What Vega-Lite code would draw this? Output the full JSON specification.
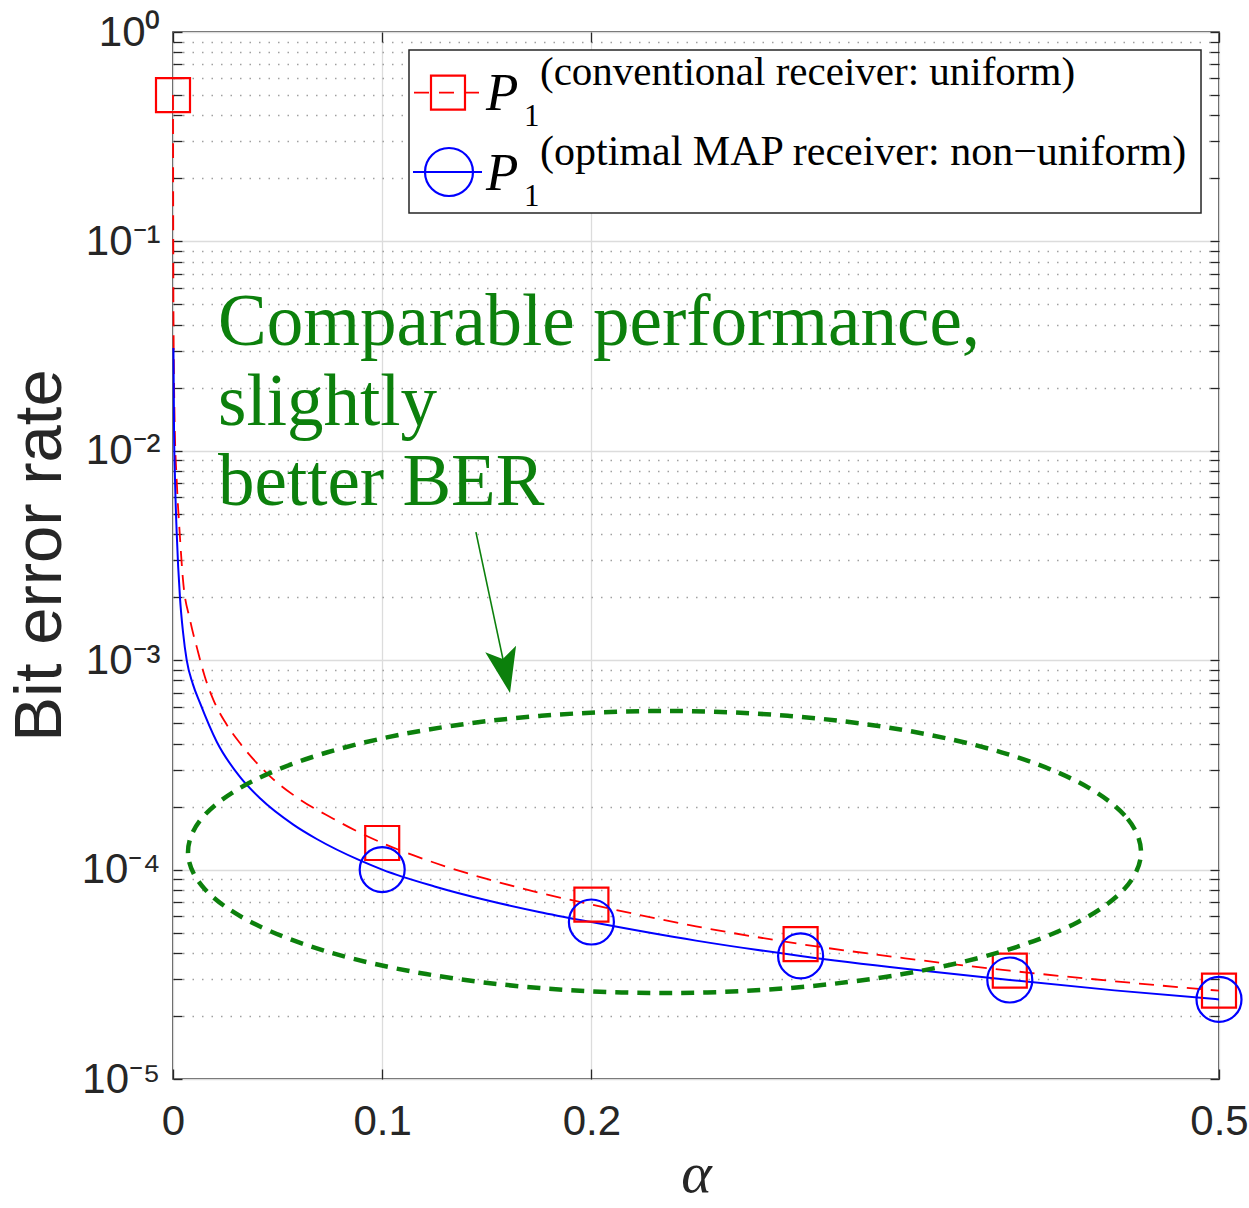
{
  "$schema": "https://vega.github.io/schema/vega-lite/v6.json",
  "width": 1046,
  "height": 1047,
  "autosize": {"type": "none"},
  "padding": {"left": 173, "top": 32, "right": 30, "bottom": 129},
  "background": "white",
  "config": {
    "view": {"stroke": "#262626", "strokeWidth": 1.5},
    "axis": {"labelFont": "Liberation Sans", "titleFont": "Liberation Sans"}
  },
  "datasets": {
    "curves": [
      {"receiver": "conventional", "alpha": 0, "ber": 0.5},
      {"receiver": "conventional", "alpha": 0.0002, "ber": 0.05},
      {"receiver": "conventional", "alpha": 0.0008, "ber": 0.0135},
      {"receiver": "conventional", "alpha": 0.00177, "ber": 0.00725},
      {"receiver": "conventional", "alpha": 0.0032, "ber": 0.00405},
      {"receiver": "conventional", "alpha": 0.00478, "ber": 0.00242},
      {"receiver": "conventional", "alpha": 0.00813, "ber": 0.00156},
      {"receiver": "conventional", "alpha": 0.01171, "ber": 0.00112},
      {"receiver": "conventional", "alpha": 0.0153, "ber": 0.00083},
      {"receiver": "conventional", "alpha": 0.0193, "ber": 0.000646},
      {"receiver": "conventional", "alpha": 0.025, "ber": 0.000505},
      {"receiver": "conventional", "alpha": 0.032, "ber": 0.000402},
      {"receiver": "conventional", "alpha": 0.0464, "ber": 0.000279},
      {"receiver": "conventional", "alpha": 0.0607, "ber": 0.000216},
      {"receiver": "conventional", "alpha": 0.0766, "ber": 0.000175},
      {"receiver": "conventional", "alpha": 0.0882, "ber": 0.000152},
      {"receiver": "conventional", "alpha": 0.1, "ber": 0.000134},
      {"receiver": "conventional", "alpha": 0.125, "ber": 0.0001078},
      {"receiver": "conventional", "alpha": 0.15, "ber": 0.0000902},
      {"receiver": "conventional", "alpha": 0.175, "ber": 0.0000776},
      {"receiver": "conventional", "alpha": 0.2, "ber": 0.0000681},
      {"receiver": "conventional", "alpha": 0.25, "ber": 0.0000536},
      {"receiver": "conventional", "alpha": 0.3, "ber": 0.0000441},
      {"receiver": "conventional", "alpha": 0.35, "ber": 0.0000377},
      {"receiver": "conventional", "alpha": 0.4, "ber": 0.0000329},
      {"receiver": "conventional", "alpha": 0.45, "ber": 0.0000293},
      {"receiver": "conventional", "alpha": 0.5, "ber": 0.0000264},
      {"receiver": "optimal", "alpha": 0.0002, "ber": 0.031},
      {"receiver": "optimal", "alpha": 0.0005, "ber": 0.0125},
      {"receiver": "optimal", "alpha": 0.00096, "ber": 0.0073},
      {"receiver": "optimal", "alpha": 0.00177, "ber": 0.00405},
      {"receiver": "optimal", "alpha": 0.00335, "ber": 0.00198},
      {"receiver": "optimal", "alpha": 0.0048, "ber": 0.00136},
      {"receiver": "optimal", "alpha": 0.00655, "ber": 0.001},
      {"receiver": "optimal", "alpha": 0.0095, "ber": 0.000769},
      {"receiver": "optimal", "alpha": 0.0129, "ber": 0.000625},
      {"receiver": "optimal", "alpha": 0.0209, "ber": 0.000408},
      {"receiver": "optimal", "alpha": 0.032, "ber": 0.000277},
      {"receiver": "optimal", "alpha": 0.0416, "ber": 0.000219},
      {"receiver": "optimal", "alpha": 0.0575, "ber": 0.000164},
      {"receiver": "optimal", "alpha": 0.0687, "ber": 0.00014},
      {"receiver": "optimal", "alpha": 0.0894, "ber": 0.0001106},
      {"receiver": "optimal", "alpha": 0.1, "ber": 0.0001},
      {"receiver": "optimal", "alpha": 0.125, "ber": 0.0000831},
      {"receiver": "optimal", "alpha": 0.15, "ber": 0.0000714},
      {"receiver": "optimal", "alpha": 0.175, "ber": 0.0000628},
      {"receiver": "optimal", "alpha": 0.2, "ber": 0.0000562},
      {"receiver": "optimal", "alpha": 0.25, "ber": 0.0000458},
      {"receiver": "optimal", "alpha": 0.3, "ber": 0.0000387},
      {"receiver": "optimal", "alpha": 0.35, "ber": 0.0000336},
      {"receiver": "optimal", "alpha": 0.4, "ber": 0.0000297},
      {"receiver": "optimal", "alpha": 0.45, "ber": 0.0000265},
      {"receiver": "optimal", "alpha": 0.5, "ber": 0.000024}
    ],
    "markers": [
      {"receiver": "conventional", "alpha": 0, "ber": 0.5},
      {"receiver": "conventional", "alpha": 0.1, "ber": 0.000134},
      {"receiver": "conventional", "alpha": 0.2, "ber": 0.0000681},
      {"receiver": "conventional", "alpha": 0.3, "ber": 0.0000441},
      {"receiver": "conventional", "alpha": 0.4, "ber": 0.0000329},
      {"receiver": "conventional", "alpha": 0.5, "ber": 0.0000264},
      {"receiver": "optimal", "alpha": 0.1, "ber": 0.0001},
      {"receiver": "optimal", "alpha": 0.2, "ber": 0.0000562},
      {"receiver": "optimal", "alpha": 0.3, "ber": 0.0000387},
      {"receiver": "optimal", "alpha": 0.4, "ber": 0.0000297},
      {"receiver": "optimal", "alpha": 0.5, "ber": 0.000024}
    ],
    "ellipse": [
      {"i": 0, "alpha": 0.46271, "ber": 0.00012135},
      {"i": 1, "alpha": 0.45495, "ber": 0.0001813},
      {"i": 2, "alpha": 0.43219, "ber": 0.0002634},
      {"i": 3, "alpha": 0.396, "ber": 0.0003633},
      {"i": 4, "alpha": 0.34883, "ber": 0.0004647},
      {"i": 5, "alpha": 0.29389, "ber": 0.0005426},
      {"i": 6, "alpha": 0.23494, "ber": 0.000572},
      {"i": 7, "alpha": 0.17599, "ber": 0.0005426},
      {"i": 8, "alpha": 0.12105, "ber": 0.0004647},
      {"i": 9, "alpha": 0.07388, "ber": 0.0003633},
      {"i": 10, "alpha": 0.03769, "ber": 0.0002634},
      {"i": 11, "alpha": 0.01493, "ber": 0.0001813},
      {"i": 12, "alpha": 0.00717, "ber": 0.00012135},
      {"i": 13, "alpha": 0.01493, "ber": 0.00008125},
      {"i": 14, "alpha": 0.03769, "ber": 0.0000559},
      {"i": 15, "alpha": 0.07388, "ber": 0.00004055},
      {"i": 16, "alpha": 0.12105, "ber": 0.0000317},
      {"i": 17, "alpha": 0.17599, "ber": 0.00002715},
      {"i": 18, "alpha": 0.23494, "ber": 0.00002574},
      {"i": 19, "alpha": 0.29389, "ber": 0.00002715},
      {"i": 20, "alpha": 0.34883, "ber": 0.0000317},
      {"i": 21, "alpha": 0.396, "ber": 0.00004055},
      {"i": 22, "alpha": 0.43219, "ber": 0.0000559},
      {"i": 23, "alpha": 0.45495, "ber": 0.00008125}
    ],
    "texts": [
      {"key": "note", "text": "Comparable performance,\nslightly\nbetter BER"},
      {"key": "P", "text": "P"},
      {"key": "sub", "text": "1"},
      {"key": "sup1", "text": "(conventional receiver: uniform)"},
      {"key": "sup2", "text": "(optimal MAP receiver: non−uniform)"}
    ],
    "one": [{"item": "annotation"}]
  },
  "resolve": {"axis": {"x": "independent", "y": "independent"}},
  "layer": [
    {
      "data": {"name": "curves"},
      "transform": [{"filter": "datum.receiver === 'conventional'"}],
      "mark": {"type": "line", "color": "#ff0000", "strokeWidth": 1.8, "strokeDash": [15, 9], "interpolate": "monotone"},
      "encoding": {
        "x": {
          "field": "alpha", "type": "quantitative",
          "scale": {"domain": [0, 0.5], "nice": false, "zero": false},
          "axis": {
            "orient": "bottom", "values": [0, 0.1, 0.2, 0.5], "format": "~g",
            "grid": true, "gridColor": "#dcdcdc", "gridWidth": 1.3,
            "domain": false, "tickSize": -10, "tickColor": "#262626", "tickWidth": 1.3,
            "labelFontSize": 42, "labelColor": "#262626", "labelPadding": 65, "labelBaseline": "alphabetic",
            "labelFlush": false, "labelOverlap": false,
            "title": "α", "titleFont": "Liberation Serif", "titleFontStyle": "italic", "titleFontWeight": "normal",
            "titleFontSize": 58, "titleColor": "#262626", "titleBaseline": "alphabetic", "titleY": 112
          }
        },
        "y": {
          "field": "ber", "type": "quantitative",
          "scale": {"type": "log", "domain": [0.00001, 1], "nice": false},
          "axis": {
            "orient": "left",
            "values": [0.00001, 0.00002, 0.00003, 0.00004, 0.00005, 0.00006, 0.00007, 0.00008, 0.00009,
                       0.0001, 0.0002, 0.0003, 0.0004, 0.0005, 0.0006, 0.0007, 0.0008, 0.0009,
                       0.001, 0.002, 0.003, 0.004, 0.005, 0.006, 0.007, 0.008, 0.009,
                       0.01, 0.02, 0.03, 0.04, 0.05, 0.06, 0.07, 0.08, 0.09,
                       0.1, 0.2, 0.3, 0.4, 0.5, 0.6, 0.7, 0.8, 0.9, 1],
            "grid": true,
            "gridColor": {"condition": {"test": "abs(log(datum.value)/LN10 - round(log(datum.value)/LN10)) < 0.001", "value": "#dcdcdc"}, "value": "#a0a0a0"},
            "gridDash": {"condition": {"test": "abs(log(datum.value)/LN10 - round(log(datum.value)/LN10)) < 0.001", "value": []}, "value": [1.5, 8]},
            "gridWidth": 1.3,
            "domain": false, "tickSize": -9, "tickColor": "#262626", "tickWidth": 1.3,
            "labelExpr": "abs(log(datum.value)/LN10 - round(log(datum.value)/LN10)) < 0.001 ? '10' + ['⁰','⁻¹','⁻²','⁻³','⁻⁴','⁻⁵'][-round(log(datum.value)/LN10)] : ''",
            "labelFontSize": 42, "labelColor": "#262626", "labelPadding": 22, "labelOverlap": false, "labelFlush": false,
            "title": "Bit error rate", "titleFontSize": 67, "titleFontWeight": "normal", "titleColor": "#262626",
            "titleAngle": -90, "titleBaseline": "alphabetic", "titleAlign": "center", "titleX": -113, "titleY": 523
          }
        }
      }
    },
    {
      "data": {"name": "curves"},
      "transform": [{"filter": "datum.receiver === 'optimal'"}],
      "mark": {"type": "line", "color": "#0000ff", "strokeWidth": 2, "interpolate": "monotone"},
      "encoding": {
        "x": {
          "field": "alpha", "type": "quantitative",
          "scale": {"domain": [0, 0.5], "nice": false, "zero": false},
          "axis": {"orient": "top", "values": [0, 0.1, 0.2, 0.5], "grid": false, "labels": false, "domain": false,
                   "tickSize": -10, "tickColor": "#262626", "tickWidth": 1.3, "title": null}
        },
        "y": {
          "field": "ber", "type": "quantitative",
          "scale": {"type": "log", "domain": [0.00001, 1], "nice": false},
          "axis": {
            "orient": "right",
            "values": [0.00001, 0.00002, 0.00003, 0.00004, 0.00005, 0.00006, 0.00007, 0.00008, 0.00009,
                       0.0001, 0.0002, 0.0003, 0.0004, 0.0005, 0.0006, 0.0007, 0.0008, 0.0009,
                       0.001, 0.002, 0.003, 0.004, 0.005, 0.006, 0.007, 0.008, 0.009,
                       0.01, 0.02, 0.03, 0.04, 0.05, 0.06, 0.07, 0.08, 0.09,
                       0.1, 0.2, 0.3, 0.4, 0.5, 0.6, 0.7, 0.8, 0.9, 1],
            "grid": false, "labels": false, "domain": false,
            "tickSize": -9, "tickColor": "#262626", "tickWidth": 1.3, "title": null
          }
        }
      }
    },
    {
      "data": {"name": "markers"},
      "transform": [{"filter": "datum.receiver === 'conventional'"}],
      "mark": {"type": "point", "shape": "square", "size": 1156, "filled": false, "stroke": "#ff0000", "strokeWidth": 2.2, "opacity": 1},
      "encoding": {
        "x": {"field": "alpha", "type": "quantitative", "scale": {"domain": [0, 0.5], "nice": false, "zero": false}, "axis": null},
        "y": {"field": "ber", "type": "quantitative", "scale": {"type": "log", "domain": [0.00001, 1], "nice": false}, "axis": null}
      }
    },
    {
      "data": {"name": "markers"},
      "transform": [{"filter": "datum.receiver === 'optimal'"}],
      "mark": {"type": "point", "shape": "circle", "size": 2025, "filled": false, "stroke": "#0000ff", "strokeWidth": 2.2, "opacity": 1},
      "encoding": {
        "x": {"field": "alpha", "type": "quantitative", "scale": {"domain": [0, 0.5], "nice": false, "zero": false}, "axis": null},
        "y": {"field": "ber", "type": "quantitative", "scale": {"type": "log", "domain": [0.00001, 1], "nice": false}, "axis": null}
      }
    },
    {
      "data": {"name": "ellipse"},
      "mark": {"type": "line", "color": "#0c800c", "strokeWidth": 4.5, "strokeDash": [13, 9], "interpolate": "cardinal-closed"},
      "encoding": {
        "x": {"field": "alpha", "type": "quantitative", "scale": {"domain": [0, 0.5], "nice": false, "zero": false}, "axis": null},
        "y": {"field": "ber", "type": "quantitative", "scale": {"type": "log", "domain": [0.00001, 1], "nice": false}, "axis": null},
        "order": {"field": "i", "type": "quantitative"}
      }
    },
    {
      "data": {"name": "texts"},
      "transform": [{"filter": "datum.key === 'note'"}],
      "mark": {"type": "text", "align": "left", "baseline": "alphabetic", "font": "Liberation Serif", "fontSize": 73, "color": "#0c800c", "lineBreak": "\n", "lineHeight": 80},
      "encoding": {
        "x": {"datum": 0.0215, "type": "quantitative", "scale": {"domain": [0, 0.5], "nice": false, "zero": false}, "axis": null},
        "y": {"datum": 0.032, "type": "quantitative", "scale": {"type": "log", "domain": [0.00001, 1], "nice": false}, "axis": null},
        "text": {"field": "text"}
      }
    },
    {
      "data": {"name": "one"},
      "mark": {"type": "rule", "color": "#0c800c", "strokeWidth": 1.6},
      "encoding": {
        "x": {"datum": 0.1448, "type": "quantitative", "scale": {"domain": [0, 0.5], "nice": false, "zero": false}, "axis": null},
        "y": {"datum": 0.00409, "type": "quantitative", "scale": {"type": "log", "domain": [0.00001, 1], "nice": false}, "axis": null},
        "x2": {"datum": 0.1605},
        "y2": {"datum": 0.00075}
      }
    },
    {
      "data": {"name": "one"},
      "mark": {"type": "point", "shape": "M0,0 L-0.7,-2 L0,-1.55 L0.7,-2 Z", "size": 2025, "angle": -12, "filled": true, "fill": "#0c800c", "strokeWidth": 0, "opacity": 1},
      "encoding": {
        "x": {"datum": 0.1611, "type": "quantitative", "scale": {"domain": [0, 0.5], "nice": false, "zero": false}, "axis": null},
        "y": {"datum": 0.000697, "type": "quantitative", "scale": {"type": "log", "domain": [0.00001, 1], "nice": false}, "axis": null}
      }
    },
    {
      "data": {"name": "one"},
      "mark": {"type": "rect", "fill": "white", "stroke": "#262626", "strokeWidth": 1.5},
      "encoding": {
        "x": {"datum": 0.11281, "type": "quantitative", "scale": {"domain": [0, 0.5], "nice": false, "zero": false}, "axis": null},
        "x2": {"datum": 0.4914},
        "y": {"datum": 0.8205, "type": "quantitative", "scale": {"type": "log", "domain": [0.00001, 1], "nice": false}, "axis": null},
        "y2": {"datum": 0.1367}
      }
    },
    {
      "data": {"name": "one"},
      "mark": {"type": "rule", "color": "#ff0000", "strokeWidth": 1.8, "strokeDash": [15, 10]},
      "encoding": {
        "x": {"datum": 0.1152, "type": "quantitative", "scale": {"domain": [0, 0.5], "nice": false, "zero": false}, "axis": null},
        "x2": {"datum": 0.14771},
        "y": {"datum": 0.513, "type": "quantitative", "scale": {"type": "log", "domain": [0.00001, 1], "nice": false}, "axis": null}
      }
    },
    {
      "data": {"name": "one"},
      "mark": {"type": "point", "shape": "square", "size": 1156, "filled": false, "stroke": "#ff0000", "strokeWidth": 2.2, "opacity": 1},
      "encoding": {
        "x": {"datum": 0.13145, "type": "quantitative", "scale": {"domain": [0, 0.5], "nice": false, "zero": false}, "axis": null},
        "y": {"datum": 0.513, "type": "quantitative", "scale": {"type": "log", "domain": [0.00001, 1], "nice": false}, "axis": null}
      }
    },
    {
      "data": {"name": "one"},
      "mark": {"type": "rule", "color": "#0000ff", "strokeWidth": 2},
      "encoding": {
        "x": {"datum": 0.11472, "type": "quantitative", "scale": {"domain": [0, 0.5], "nice": false, "zero": false}, "axis": null},
        "x2": {"datum": 0.14771},
        "y": {"datum": 0.2145, "type": "quantitative", "scale": {"type": "log", "domain": [0.00001, 1], "nice": false}, "axis": null}
      }
    },
    {
      "data": {"name": "one"},
      "mark": {"type": "point", "shape": "circle", "size": 2304, "filled": false, "stroke": "#0000ff", "strokeWidth": 2.2, "opacity": 1},
      "encoding": {
        "x": {"datum": 0.13193, "type": "quantitative", "scale": {"domain": [0, 0.5], "nice": false, "zero": false}, "axis": null},
        "y": {"datum": 0.2145, "type": "quantitative", "scale": {"type": "log", "domain": [0.00001, 1], "nice": false}, "axis": null}
      }
    },
    {
      "data": {"name": "texts"},
      "transform": [{"filter": "datum.key === 'P'"}],
      "mark": {"type": "text", "align": "left", "baseline": "alphabetic", "font": "Liberation Serif", "fontStyle": "italic", "fontSize": 53, "color": "black"},
      "encoding": {
        "x": {"datum": 0.1496, "type": "quantitative", "scale": {"domain": [0, 0.5], "nice": false, "zero": false}, "axis": null},
        "y": {"datum": 0.424, "type": "quantitative", "scale": {"type": "log", "domain": [0.00001, 1], "nice": false}, "axis": null},
        "text": {"field": "text"}
      }
    },
    {
      "data": {"name": "texts"},
      "transform": [{"filter": "datum.key === 'sub'"}],
      "mark": {"type": "text", "align": "left", "baseline": "alphabetic", "font": "Liberation Serif", "fontSize": 31, "color": "black"},
      "encoding": {
        "x": {"datum": 0.1678, "type": "quantitative", "scale": {"domain": [0, 0.5], "nice": false, "zero": false}, "axis": null},
        "y": {"datum": 0.3557, "type": "quantitative", "scale": {"type": "log", "domain": [0.00001, 1], "nice": false}, "axis": null},
        "text": {"field": "text"}
      }
    },
    {
      "data": {"name": "texts"},
      "transform": [{"filter": "datum.key === 'sup1'"}],
      "mark": {"type": "text", "align": "left", "baseline": "alphabetic", "font": "Liberation Serif", "fontSize": 41, "color": "black"},
      "encoding": {
        "x": {"datum": 0.17543, "type": "quantitative", "scale": {"domain": [0, 0.5], "nice": false, "zero": false}, "axis": null},
        "y": {"datum": 0.5582, "type": "quantitative", "scale": {"type": "log", "domain": [0.00001, 1], "nice": false}, "axis": null},
        "text": {"field": "text"}
      }
    },
    {
      "data": {"name": "texts"},
      "transform": [{"filter": "datum.key === 'P'"}],
      "mark": {"type": "text", "align": "left", "baseline": "alphabetic", "font": "Liberation Serif", "fontStyle": "italic", "fontSize": 53, "color": "black"},
      "encoding": {
        "x": {"datum": 0.1496, "type": "quantitative", "scale": {"domain": [0, 0.5], "nice": false, "zero": false}, "axis": null},
        "y": {"datum": 0.176, "type": "quantitative", "scale": {"type": "log", "domain": [0.00001, 1], "nice": false}, "axis": null},
        "text": {"field": "text"}
      }
    },
    {
      "data": {"name": "texts"},
      "transform": [{"filter": "datum.key === 'sub'"}],
      "mark": {"type": "text", "align": "left", "baseline": "alphabetic", "font": "Liberation Serif", "fontSize": 31, "color": "black"},
      "encoding": {
        "x": {"datum": 0.1678, "type": "quantitative", "scale": {"domain": [0, 0.5], "nice": false, "zero": false}, "axis": null},
        "y": {"datum": 0.1476, "type": "quantitative", "scale": {"type": "log", "domain": [0.00001, 1], "nice": false}, "axis": null},
        "text": {"field": "text"}
      }
    },
    {
      "data": {"name": "texts"},
      "transform": [{"filter": "datum.key === 'sup2'"}],
      "mark": {"type": "text", "align": "left", "baseline": "alphabetic", "font": "Liberation Serif", "fontSize": 42, "color": "black"},
      "encoding": {
        "x": {"datum": 0.17543, "type": "quantitative", "scale": {"domain": [0, 0.5], "nice": false, "zero": false}, "axis": null},
        "y": {"datum": 0.2317, "type": "quantitative", "scale": {"type": "log", "domain": [0.00001, 1], "nice": false}, "axis": null},
        "text": {"field": "text"}
      }
    }
  ]
}
